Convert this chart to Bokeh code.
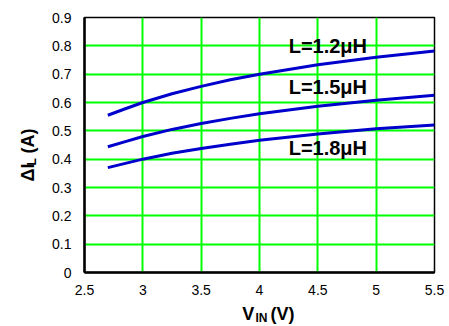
from bokeh.plotting import figure
from bokeh.models import Label, FixedTicker, Range1d
from bokeh.layouts import row, column
from bokeh.embed import file_html
from bokeh.resources import INLINE
import math

# ---- data ----
vin = [2.7, 2.85, 3.0, 3.25, 3.5, 3.75, 4.0, 4.5, 5.0, 5.5]
di_l12 = [0.555, 0.578, 0.600, 0.631, 0.657, 0.680, 0.700, 0.733, 0.760, 0.782]
di_l15 = [0.444, 0.462, 0.480, 0.505, 0.526, 0.544, 0.560, 0.587, 0.608, 0.626]
di_l18 = [0.370, 0.385, 0.400, 0.421, 0.438, 0.453, 0.467, 0.489, 0.507, 0.521]
series_names = ["L=1.2μH", "L=1.5μH", "L=1.8μH"]

x_ticks = [2.5, 3.0, 3.5, 4.0, 4.5, 5.0, 5.5]
x_tick_labels = ["2.5", "3", "3.5", "4", "4.5", "5", "5.5"]
y_ticks = [0.0, 0.1, 0.2, 0.3, 0.4, 0.5, 0.6, 0.7, 0.8, 0.9]
y_tick_labels = ["0", "0.1", "0.2", "0.3", "0.4", "0.5", "0.6", "0.7", "0.8", "0.9"]

FONT = "Liberation Sans"
BLUE = "#0000CC"
GREEN = "#00FF00"

YLAB_W = 40
XLAB_H = 24
W, H = 449, 326

p = figure(width=W - YLAB_W, height=H - XLAB_H, output_backend="svg", toolbar_location=None,
           x_range=Range1d(2.5, 5.5), y_range=Range1d(0, 0.9),
           min_border_left=44, min_border_right=15, min_border_top=17, min_border_bottom=30)
p.background_fill_color = "white"
p.border_fill_color = "white"
p.outline_line_color = "black"
p.outline_line_width = 1.5

for ys in (di_l12, di_l15, di_l18):
    p.line(vin, ys, line_color=BLUE, line_width=3)

for ax, ticks, labels in ((p.xaxis[0], x_ticks, x_tick_labels), (p.yaxis[0], y_ticks, y_tick_labels)):
    ax.ticker = FixedTicker(ticks=ticks)
    ax.major_label_overrides = {t: l for t, l in zip(ticks, labels)}
    ax.major_tick_in = 0
    ax.major_tick_out = 0
    ax.minor_tick_in = 0
    ax.minor_tick_out = 0
    ax.axis_line_color = "black"
    ax.axis_line_width = 2.5
    ax.major_label_text_font = FONT
    ax.major_label_text_font_size = "14px"
    ax.major_label_text_color = "black"

p.xaxis.major_label_standoff = 12
p.yaxis.major_label_standoff = 13

p.xgrid.ticker = FixedTicker(ticks=x_ticks)
p.ygrid.ticker = FixedTicker(ticks=y_ticks)
for g in (p.xgrid, p.ygrid):
    g.grid_line_color = GREEN
    g.grid_line_width = 2

# curve labels
label_pos = [(4.25, 0.800), (4.25, 0.654), (4.25, 0.438)]
for name, (lx, ly) in zip(series_names, label_pos):
    p.add_layout(Label(x=lx, y=ly, text=name, text_font=FONT, text_font_size="20px",
                       text_font_style="bold", text_color="black",
                       text_baseline="alphabetic", text_align="left"))


def text_panel(w, h, xr, yr, **kw):
    f = figure(width=w, height=h, output_backend="svg", toolbar_location=None,
               x_range=xr, y_range=yr, title=None,
               x_axis_location=None, y_axis_location=None,
               min_border=0, outline_line_color=None, **kw)
    f.grid.visible = False
    f.background_fill_color = "white"
    f.border_fill_color = "white"
    return f


def put(f, x, y, t, size, angle=0.0):
    f.add_layout(Label(x=x, y=y, text=t, text_font=FONT, text_font_size=size,
                       text_font_style="bold", text_color="black",
                       text_baseline="alphabetic", text_align="left", angle=angle))


# x axis title with subscript (panel frame spans page x 84..434, y 302..326)
xl = text_panel(W - YLAB_W, XLAB_H, Range1d(84, 434), Range1d(326, 302),
                min_border_left=44, min_border_right=15)
put(xl, 241.7, 313.5, "V", "18px")
put(xl, 255.0, 317.0, "IN", "12px")
put(xl, 270.0, 313.5, "(V)", "18px")

# y axis title (rotated) with subscript (panel spans page x 0..40, y 0..326)
yl = text_panel(YLAB_W, H, Range1d(0, 40), Range1d(326, 0))
put(yl, 27.5, 181, "ΔI", "18px", math.pi / 2)
put(yl, 31.5, 165, "L", "12px", math.pi / 2)
put(yl, 27.5, 153, "(A)", "18px", math.pi / 2)

layout = row(yl, column(p, xl))
open("out.html", "w").write(file_html(layout, INLINE))
